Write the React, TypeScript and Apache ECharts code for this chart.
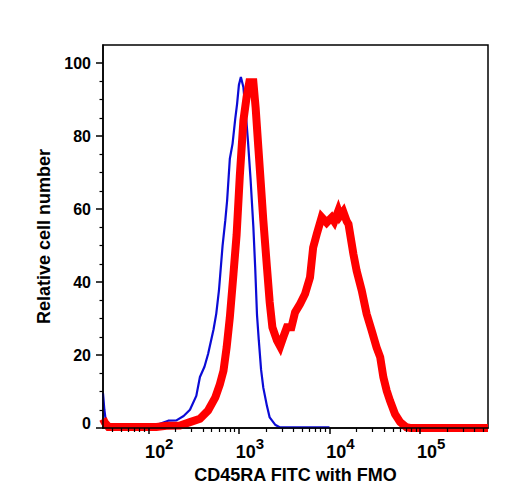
import React, { useEffect, useRef } from "react";
import * as echarts from "echarts";

// x positions are log10(fluorescence intensity)
const fmoLogX = [
  1.5, 1.515, 1.535, 1.56, 1.72, 2.0, 2.09, 2.22, 2.31, 2.39, 2.46, 2.53, 2.57, 2.62,
  2.66, 2.72, 2.75, 2.78, 2.82, 2.85, 2.87, 2.9, 2.93, 2.96, 2.98, 3.0, 3.022, 3.05,
  3.08, 3.1, 3.13, 3.16, 3.18, 3.2, 3.22, 3.245, 3.27, 3.31, 3.34, 3.4, 3.45, 4.0,
];
const fmoCounts = [
  9.5, 5, 1.2, 0.3, 0.3, 0.5, 0.8, 2.0, 2.1, 3.3, 5.0, 8.8, 14.0, 16.8,
  20.3, 27.0, 31.3, 37.7, 50.0, 56.9, 62.3, 73.8, 77.9, 84.8, 88.8, 94.0, 96.2, 93.4,
  85.0, 78.8, 67.8, 55.0, 44.0, 31.0, 24.0, 16.0, 11.0, 6.0, 2.9, 0.9, 0.2, 0.2,
];

const stainLogX = [
  1.5, 1.52, 1.56, 2.09, 2.2, 2.35, 2.46, 2.57, 2.66, 2.74, 2.79, 2.83, 2.865, 2.9,
  2.94, 2.975, 3.01, 3.05, 3.085, 3.115, 3.16, 3.185, 3.215, 3.24, 3.27, 3.31, 3.34,
  3.37, 3.42, 3.455, 3.49, 3.53, 3.58, 3.62, 3.675, 3.73, 3.785, 3.82, 3.86, 3.914,
  3.969, 4.024, 4.053, 4.097, 4.116, 4.152, 4.19, 4.21, 4.264, 4.3, 4.356, 4.41,
  4.466, 4.52, 4.56, 4.595, 4.632, 4.668, 4.724, 4.78, 4.85, 4.89, 5.75,
];
const stainCounts = [
  2.5, 1.5, 0.3, 0.3, 0.6, 0.7, 1.6, 2.5, 4.8, 8.4, 12.0, 15.7, 22.1, 30.3,
  42.2, 53.0, 69.0, 84.3, 90.7, 94.8, 94.8, 87.8, 76.8, 67.8, 56.9, 44.0, 34.5,
  27.6, 24.0, 22.4, 24.9, 27.6, 27.6, 31.7, 34.0, 36.7, 41.3, 49.5, 53.2, 57.8,
  56.3, 57.7, 56.6, 59.5, 58.1, 59.3, 56.7, 55.9, 47.7, 43.1, 37.7, 31.3,
  26.7, 22.1, 19.4, 13.9, 10.2, 7.5, 3.8, 1.6, 0.2, 0, 0,
];

const yMajorTicks = [0, 20, 40, 60, 80, 100];
const yMinorTicks = [5, 10, 15, 25, 30, 35, 45, 50, 55, 65, 70, 75, 85, 90, 95];
const xDecades = [2, 3, 4, 5];
const xMinorMultipliers = [2, 3, 4, 5, 6, 7, 8, 9];

const X_MIN = 1.5;
const X_MAX = 5.75;
const Y_MIN = 0;
const Y_MAX = 105;

const xMinorTicks: number[] = [];
for (let d = 1; d <= 5; d++) {
  for (const k of xMinorMultipliers) {
    const v = d + Math.log10(k);
    if (v > X_MIN && v < X_MAX) xMinorTicks.push(v);
  }
}

const FONT = "'Liberation Sans', Arial, Helvetica, sans-serif";

export default function App() {
  const ref = useRef<HTMLDivElement>(null);
  useEffect(() => {
    if (!ref.current) return;
    const chart = echarts.init(ref.current, undefined, { renderer: "svg" });
    const axisLine = { show: true, lineStyle: { color: "#000", width: 1.5 } };
    chart.setOption({
      animation: false,
      backgroundColor: "#fff",
      textStyle: { fontFamily: FONT },
      grid: {
        left: 95,
        right: 12,
        top: 37,
        bottom: 64,
        show: true,
        borderColor: "#000",
        borderWidth: 1.5,
        backgroundColor: "transparent",
      },
      xAxis: [
        {
          type: "value",
          min: X_MIN,
          max: X_MAX,
          position: "bottom",
          z: 5,
          axisLine,
          splitLine: { show: false },
          axisTick: {
            show: true,
            length: 6,
            customValues: xDecades,
            lineStyle: { color: "#000", width: 1.5 },
          },
          axisLabel: {
            customValues: xDecades,
            margin: 8,
            color: "#000",
            formatter: (v: number) => `{b|10}{s|${Math.round(v)}}`,
            rich: {
              b: {
                fontSize: 18,
                fontWeight: "bold",
                fontFamily: FONT,
                color: "#000",
                lineHeight: 32,
                verticalAlign: "middle",
                padding: [0, 0, 0, 22],
              },
              s: {
                fontSize: 15,
                fontWeight: "bold",
                fontFamily: FONT,
                color: "#000",
                lineHeight: 14,
                verticalAlign: "top",
              },
            },
          },
          name: "CD45RA FITC with FMO",
          nameLocation: "middle",
          nameGap: 36,
          nameTextStyle: { fontSize: 18, fontWeight: "bold", color: "#000", fontFamily: FONT },
        },
        {
          type: "value",
          min: X_MIN,
          max: X_MAX,
          position: "bottom",
          gridIndex: 0,
          z: 5,
          axisLine: { show: false },
          splitLine: { show: false },
          axisLabel: { show: false },
          axisTick: {
            show: true,
            length: 4,
            customValues: xMinorTicks,
            lineStyle: { color: "#000", width: 1.2 },
          },
        },
      ],
      yAxis: [
        {
          type: "value",
          min: Y_MIN,
          max: Y_MAX,
          position: "left",
          z: 5,
          axisLine,
          splitLine: { show: false },
          axisTick: {
            show: true,
            length: 7,
            customValues: yMajorTicks,
            lineStyle: { color: "#000", width: 1.5 },
          },
          axisLabel: {
            customValues: yMajorTicks,
            margin: 12,
            fontSize: 16,
            fontWeight: "bold",
            color: "#000",
            fontFamily: FONT,
            formatter: (v: number) => (v === 0 ? "{z|0}" : `${v}`),
            rich: {
              z: {
                fontSize: 16,
                fontWeight: "bold",
                color: "#000",
                fontFamily: FONT,
                padding: [0, 0, 9, 0],
              },
            },
          },
          name: "Relative cell number",
          nameLocation: "middle",
          nameGap: 49,
          nameTextStyle: { fontSize: 18, fontWeight: "bold", color: "#000", fontFamily: FONT },
        },
        {
          type: "value",
          min: Y_MIN,
          max: Y_MAX,
          position: "left",
          gridIndex: 0,
          z: 5,
          axisLine: { show: false },
          splitLine: { show: false },
          axisLabel: { show: false },
          axisTick: {
            show: true,
            length: 3.5,
            customValues: yMinorTicks,
            lineStyle: { color: "#000", width: 1.2 },
          },
        },
      ],
      series: [
        {
          name: "FMO",
          type: "line",
          xAxisIndex: 0,
          yAxisIndex: 0,
          showSymbol: false,
          symbol: "none",
          lineStyle: { color: "#0b0bd6", width: 2.2 },
          data: fmoLogX.map((x, i) => [x, fmoCounts[i]]),
        },
        {
          name: "CD45RA FITC",
          type: "line",
          xAxisIndex: 0,
          yAxisIndex: 0,
          showSymbol: false,
          symbol: "none",
          lineStyle: { color: "#ff0000", width: 8, join: "miter" },
          data: stainLogX.map((x, i) => [x, stainCounts[i]]),
        },
      ],
    });
    return () => chart.dispose();
  }, []);
  return <div ref={ref} style={{ width: 492, height: 484 }} />;
}
